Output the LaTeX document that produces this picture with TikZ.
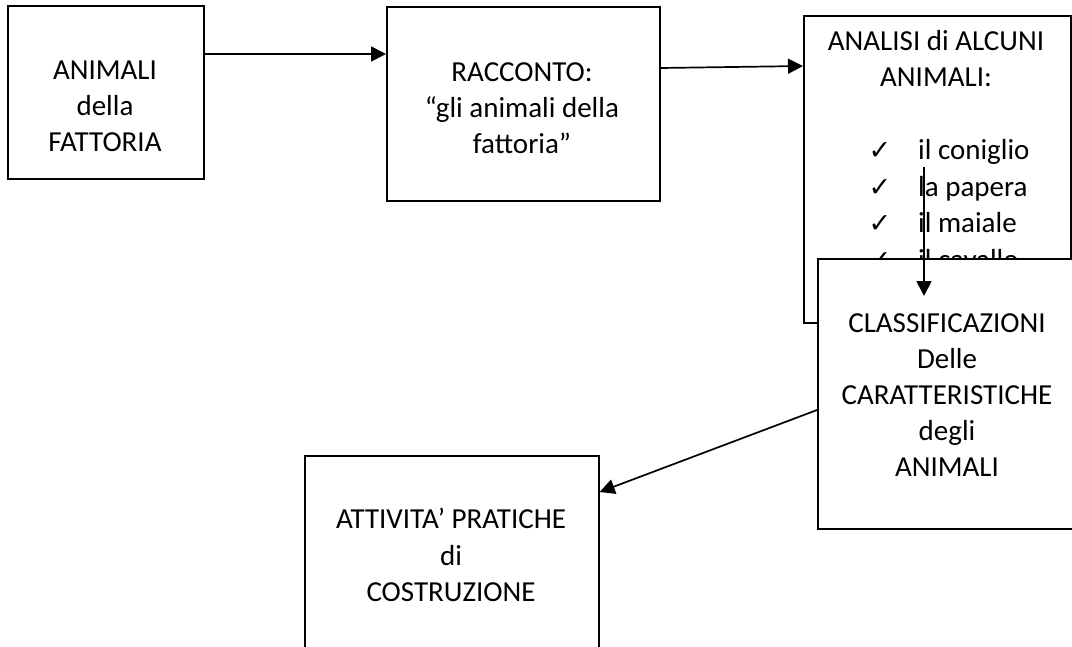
\documentclass[tikz,border=0pt]{standalone}
\usepackage{fontspec}
\setmainfont{Carlito}
\newfontfamily\symfont{DejaVu Sans}
\usetikzlibrary{arrows.meta}
\begin{document}
\begin{tikzpicture}[x=1pt,y=-1pt,
  box/.style={draw=black, line width=1.7pt, fill=white, inner sep=0pt, anchor=north west},
  txt/.style={anchor=base, inner sep=0pt, font=\fontsize{29}{36}\selectfont},
  itm/.style={anchor=base west, inner sep=0pt, font=\fontsize{29}{36}\selectfont},
  chk/.style={anchor=base, inner sep=0pt, font=\symfont\fontsize{27}{30}\selectfont},
  conn/.style={draw=black, line width=1.7pt, -{Triangle[length=15pt,width=15pt]}}]
\useasboundingbox (0,0) rectangle (1072,646);
\clip (0,0) rectangle (1072,646);
\fill[white] (0,0) rectangle (1072,646);

% box 1
\node[box, minimum width=196pt, minimum height=173pt] (b1) at (7,5) {};
\node[txt] (t1a) at (105,79) {ANIMALI};
\node[txt] (t1b) at (105,115) {della};
\node[txt] (t1c) at (105,151) {FATTORIA};

% box 2
\node[box, minimum width=273pt, minimum height=194pt] (b2) at (386,6) {};
\node[txt] (t2a) at (522,81) {RACCONTO:};
\node[txt] (t2b) at (522,117) {“gli animali della};
\node[txt] (t2c) at (522,153) {fattoria”};

% box 3
\node[box, minimum width=267pt, minimum height=307pt] (b3) at (803,15) {};
\node[txt] (t3a) at (936,50) {ANALISI di ALCUNI};
\node[txt] (t3b) at (936,86.5) {ANIMALI:};
\node[chk] (c1) at (880,159.5) {✓};
\node[itm] (i1) at (918,159.5) {il coniglio};
\node[chk] (c2) at (880,196) {✓};
\node[itm] (i2) at (918,196) {la papera};
\node[chk] (c3) at (880,232.5) {✓};
\node[itm] (i3) at (918,232.5) {il maiale};
\node[chk] (c4) at (880,269) {✓};
\node[itm] (i4) at (918,269) {il cavallo};

% box 4 (covers box 3)
\node[box, minimum width=261pt, minimum height=270pt] (b4) at (817,258) {};
\node[txt] (t4a) at (947,332) {CLASSIFICAZIONI};
\node[txt] (t4b) at (947,368) {Delle};
\node[txt] (t4c) at (947,404) {CARATTERISTICHE};
\node[txt] (t4d) at (947,440) {degli};
\node[txt] (t4e) at (947,476) {ANIMALI};

% box 5
\node[box, minimum width=294pt, minimum height=220pt] (b5) at (304,455) {};
\node[txt] (t5a) at (451,528) {ATTIVITA’ PRATICHE};
\node[txt] (t5b) at (451,565) {di};
\node[txt] (t5c) at (451,601) {COSTRUZIONE};

% connectors
\coordinate (a3s) at (924,167);
\coordinate (a3e) at (924,296);
\draw[conn] (b1.east |- 0,54) -- (b2.west |- 0,54);
\draw[conn] (b2.east |- 0,68) -- (b3.west |- 0,66);
\draw[conn] (a3s) -- (a3e);
\draw[conn] (b4.west |- 0,410) -- (b5.east |- 0,492);
\end{tikzpicture}
\end{document}
